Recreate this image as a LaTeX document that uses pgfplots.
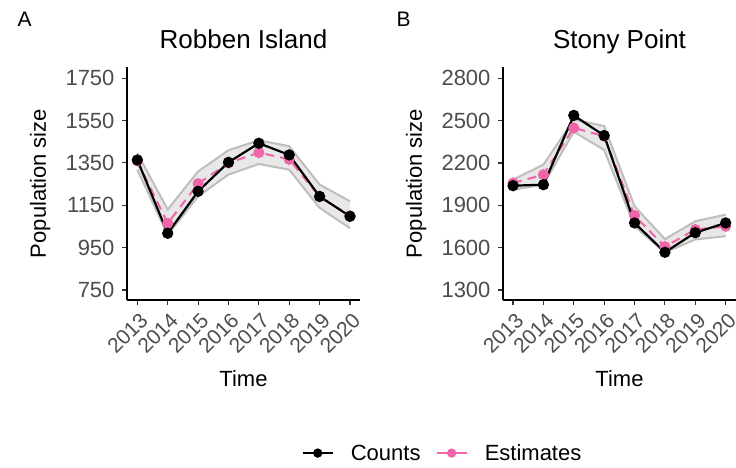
\documentclass[border=0pt]{standalone}
\usepackage{pgfplots}
\pgfplotsset{compat=1.18}
\usepackage{fontspec}
\setmainfont{Liberation Sans}
\definecolor{pinkE}{RGB}{240,100,170}
\definecolor{bandfill}{RGB}{232,232,232}
\definecolor{bandedge}{RGB}{190,190,190}
\definecolor{ticktext}{RGB}{77,77,77}

\pgfplotstableread{
year counts est lo hi
2013 1364 1360 1318 1396
2014 1018 1065 1010 1130
2015 1216 1252 1192 1310
2016 1353 1350 1295 1410
2017 1443 1399 1345 1457
2018 1388 1367 1318 1429
2019 1192 1190 1138 1248
2020 1098 1100 1042 1169
}\robben

\pgfplotstableread{
year counts est lo hi
2013 2039 2058 2011 2082
2014 2046 2117 2046 2188
2015 2537 2448 2421 2507
2016 2394 2390 2292 2462
2017 1775 1827 1751 1893
2018 1567 1607 1565 1660
2019 1706 1728 1658 1787
2020 1775 1751 1681 1834
}\stony

\pgfplotsset{
  panel/.style={
    scale only axis, width=233pt, height=233pt,
    axis x line*=bottom, axis y line*=left,
    axis line style={-, line width=1.1pt, black},
    tick align=outside, major tick length=5pt,
    tick style={line width=1.1pt, black!80},
    xtick={2013,...,2020},
    /pgf/number format/1000 sep={},
    /pgf/number format/assume math mode=true,
    ticklabel style={text=ticktext},
    xticklabel style={font=\fontsize{21}{24}\selectfont, rotate=45, anchor=north east, xshift=0pt, yshift=-2pt},
    yticklabel style={font=\fontsize{22}{25}\selectfont, xshift=-4pt},
    title style={at={(0.5,1)}, anchor=base, yshift=12pt, font=\fontsize{26}{30}\selectfont},
    label style={font=\fontsize{22}{26}\selectfont},
    xlabel={Time}, ylabel={Population size},
    xlabel style={at={(axis description cs:0.5,-0.373)}, anchor=base},
    ylabel style={at={(axis description cs:-0.348,0.5)}, anchor=base},
    clip=false,
  },
  cnt/.style={black, line width=2.2pt, mark=*, mark size=4.5pt, mark options={solid}},
  estl/.style={pinkE, line width=2pt, dash pattern=on 9pt off 6pt, mark=*, mark size=4.5pt, mark options={solid}},
}

\begin{document}
\begin{tikzpicture}[x=1pt,y=1pt]
\useasboundingbox (0,0) rectangle (736,468);

\begin{axis}[panel, at={(127pt,168pt)}, anchor=south west,
  xmin=2012.66, xmax=2020.33, ymin=703, ymax=1803,
  ytick={750,950,1150,1350,1550,1750},
  title={Robben Island},
  legend image code/.code={\draw[mark repeat=2,mark phase=2,#1] plot coordinates {(0pt,0pt) (15pt,0pt) (30pt,0pt)};},
  legend style={at={(axis description cs:1.354,-0.657)}, anchor=center, draw=none, fill=none,
    legend columns=2, font=\fontsize{22}{25}\selectfont,
    /tikz/every odd column/.append style={column sep=15pt},
    /tikz/every even column/.append style={column sep=13pt}},
]
\addlegendimage{black, line width=2.2pt, mark=*, mark size=3.5pt}
\addlegendentry{Counts}
\addlegendimage{pinkE, line width=2.2pt, mark=*, mark size=3.5pt}
\addlegendentry{Estimates}
\addplot[fill=bandfill, draw=none, forget plot] coordinates {
 (2013,1396) (2014,1130) (2015,1310) (2016,1410) (2017,1457) (2018,1429) (2019,1248) (2020,1169)
 (2020,1042) (2019,1138) (2018,1318) (2017,1345) (2016,1295) (2015,1192) (2014,1010) (2013,1318)};
\addplot[bandedge, line width=2pt, forget plot] table[x=year,y=hi] {\robben};
\addplot[bandedge, line width=2pt, forget plot] table[x=year,y=lo] {\robben};
\addplot[estl, forget plot] table[x=year,y=est] {\robben};
\addplot[cnt, forget plot] table[x=year,y=counts] {\robben};
\end{axis}

\begin{axis}[panel, at={(503pt,168pt)}, anchor=south west,
  xmin=2012.67, xmax=2020.34, ymin=1229, ymax=2880,
  ytick={1300,1600,1900,2200,2500,2800},
  title={Stony Point},
]
\addplot[fill=bandfill, draw=none, forget plot] coordinates {
 (2013,2082) (2014,2188) (2015,2507) (2016,2462) (2017,1893) (2018,1660) (2019,1787) (2020,1834)
 (2020,1681) (2019,1658) (2018,1565) (2017,1751) (2016,2292) (2015,2421) (2014,2046) (2013,2011)};
\addplot[bandedge, line width=2pt, forget plot] table[x=year,y=hi] {\stony};
\addplot[bandedge, line width=2pt, forget plot] table[x=year,y=lo] {\stony};
\addplot[estl, forget plot] table[x=year,y=est] {\stony};
\addplot[cnt, forget plot] table[x=year,y=counts] {\stony};
\end{axis}

\node[anchor=base west, font=\fontsize{21}{24}\selectfont] at (14,441) {A};
\node[anchor=base west, font=\fontsize{21}{24}\selectfont] at (393,441) {B};
\end{tikzpicture}
\end{document}
